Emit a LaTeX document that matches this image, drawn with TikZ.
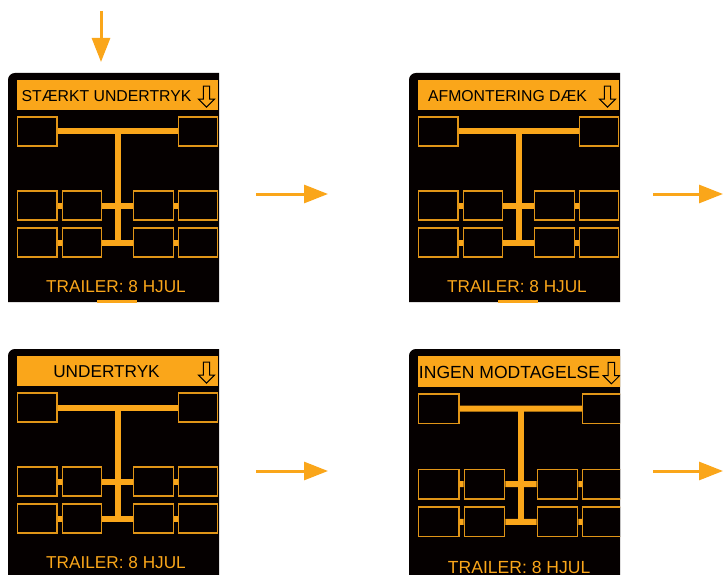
\documentclass[tikz,border=0pt]{standalone}
\usepackage{fontspec}
\setmainfont{Liberation Sans}
\usepackage{xcolor}
\usetikzlibrary{arrows.meta,shapes.arrows}
\definecolor{amber}{HTML}{FAA61A}
\definecolor{screenblack}{HTML}{050000}
\newcommand{\bigtitle}{\fontsize{17.2pt}{20pt}\selectfont}
\tikzset{
	wheel/.style={draw=amber!90!black, line width=1.4pt, fill=screenblack, minimum width=39.5pt, minimum height=29pt, inner sep=0pt},
	axle/.style={draw=amber, line width=6pt},
	titlebar/.style={fill=amber, minimum width=201pt, minimum height=30pt, inner sep=0pt},
	titletext/.style={text=black, font=\fontsize{15.8pt}{18pt}\selectfont, inner sep=0pt},
	footer/.style={text=amber, font=\fontsize{17.2pt}{20pt}\selectfont, inner sep=0pt},
	downmark/.style={single arrow, draw=black, line width=1pt, fill=amber, shape border rotate=270, minimum height=21pt, minimum width=16pt, single arrow head extend=3pt, single arrow tip angle=90, inner sep=1.5pt},
	flow/.style={draw=amber, line width=3pt, -{Triangle[length=24pt,width=18pt]}, shorten >=0pt}
}
% #1 name, #2 x, #3 y, #4 scale, #5 height, #6 title
\newcommand{\trailerscreen}[6]{
	\begin{scope}[shift={(#2,#3)}]
		\fill[screenblack] (0,#5) -- (0,7) .. controls (0,3) and (3,0) .. (7,0) -- (211,0) -- (211,#5) -- cycle;
		\clip (0,0) rectangle (211,#5);
		\begin{scope}[scale=#4, transform shape]
			\node[titlebar] (#1-bar) at (109.5,22) {};
			\node[titletext] (#1-title) at (98.5,23) {#6};
			\node[downmark] (#1-down) at (198.5,22) {};
			\node[wheel] (#1-fl) at (29.25,58.5) {};
			\node[wheel] (#1-fr) at (190,58.5) {};
			\foreach \row/\ypos in {a/132.5,b/169.5}{
				\node[wheel] (#1-\row1) at (29.25,\ypos) {};
				\node[wheel] (#1-\row2) at (74,\ypos) {};
				\node[wheel] (#1-\row3) at (145.5,\ypos) {};
				\node[wheel] (#1-\row4) at (190,\ypos) {};
				\draw[axle] (#1-\row1) -- (#1-\row2);
				\draw[axle] (#1-\row2) -- (#1-\row3);
				\draw[axle] (#1-\row3) -- (#1-\row4);
			}
			\draw[axle] (#1-fl) -- (#1-fr);
			\coordinate (#1-top) at (109.75,58.5);
			\coordinate (#1-low) at (109.75,169.5);
			\draw[axle] (#1-top) -- (#1-low);
			\node[footer] (#1-footer) at (108,214) {TRAILER: 8 HJUL};
			\fill[amber] (89,227) rectangle (129,231);
		\end{scope}
	\end{scope}
}

\begin{document}
\begin{tikzpicture}[x=1pt, y=-1pt]
	\useasboundingbox (0,0) rectangle (723,575);
	\trailerscreen{s1}{8}{73}{1}{229}{STÆRKT UNDERTRYK}
	\trailerscreen{s2}{409}{73}{1}{229}{AFMONTERING DÆK}
	\trailerscreen{s3}{8}{349}{1}{226}{\bigtitle UNDERTRYK}
	\trailerscreen{s4}{409}{349}{1.02}{226}{\bigtitle INGEN MODTAGELSE}
	\coordinate (in0) at (101,11);
	\coordinate (in1) at (101,62);
	\draw[flow] (in0) -- (in1);
	\coordinate (a0) at (256,194);
	\coordinate (a1) at (328,194);
	\draw[flow] (a0) -- (a1);
	\coordinate (b0) at (653,194);
	\coordinate (b1) at (723,194);
	\draw[flow] (b0) -- (b1);
	\coordinate (c0) at (256,471);
	\coordinate (c1) at (328,471);
	\draw[flow] (c0) -- (c1);
	\coordinate (d0) at (653,471);
	\coordinate (d1) at (723,471);
	\draw[flow] (d0) -- (d1);
\end{tikzpicture}
\end{document}
